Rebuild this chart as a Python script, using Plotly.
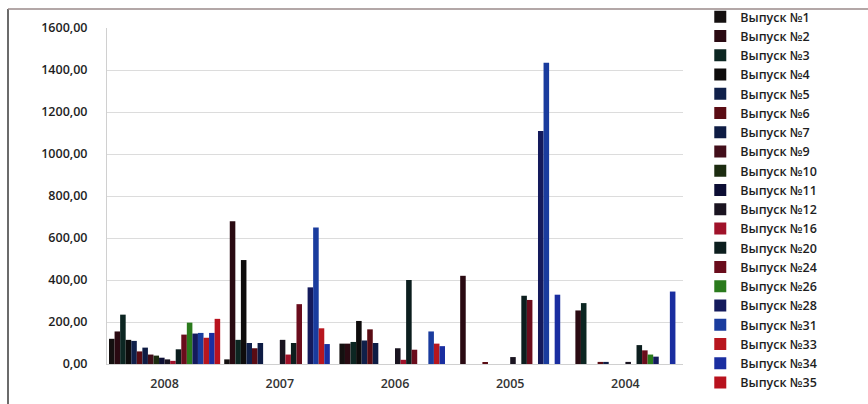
import plotly.graph_objects as go

# Years shown on the category axis (newest first)
years = ["2008", "2007", "2006", "2005", "2004"]

# Issue names (legend order)
issues = ["Выпуск №1", "Выпуск №2", "Выпуск №3", "Выпуск №4", "Выпуск №5",
          "Выпуск №6", "Выпуск №7", "Выпуск №9", "Выпуск №10", "Выпуск №11",
          "Выпуск №12", "Выпуск №16", "Выпуск №20", "Выпуск №24", "Выпуск №26",
          "Выпуск №28", "Выпуск №31", "Выпуск №33", "Выпуск №34", "Выпуск №35"]

# Values per issue, one per year (None = no value that year)
v01 = [120, 22, 97, None, None]
v02 = [155, 680, 97, 420, 255]
v03 = [235, 115, 105, None, 290]
v04 = [115, 495, 205, None, None]
v05 = [110, 100, 112, None, None]
v06 = [60, 75, 165, 7, 10]
v07 = [78, 100, 100, None, 10]
v09 = [45, None, None, None, None]
v10 = [40, None, None, None, None]
v11 = [30, None, None, None, None]
v12 = [22, 115, 75, 33, 10]
v16 = [15, 45, 20, None, None]
v20 = [70, 100, 400, 325, 90]
v24 = [140, 285, 68, 305, 65]
v26 = [197, None, None, None, 45]
v28 = [145, 365, None, 1110, 35]
v31 = [148, 650, 155, 1435, None]
v33 = [125, 170, 97, None, None]
v34 = [148, 95, 85, 330, 345]
v35 = [215, None, None, None, None]

values = [v01, v02, v03, v04, v05, v06, v07, v09, v10, v11,
          v12, v16, v20, v24, v26, v28, v31, v33, v34, v35]

colors = ["#141010", "#2a0a12", "#0c2622", "#0e0c0c", "#10204a",
          "#5a0c14", "#0e1c44", "#420e1a", "#1c2c10", "#0c0e34",
          "#1a1420", "#a0122a", "#0c1e1e", "#6a0c1c", "#2a7a1c",
          "#141a5c", "#1a3c9e", "#b8161e", "#1a2ea0", "#b8121e"]

fig = go.Figure()
for name, vals, col in zip(issues, values, colors):
    fig.add_trace(go.Bar(x=years, y=vals, name=name,
                         marker=dict(color=col, line=dict(width=0))))

fig.update_layout(
    width=868, height=404,
    margin=dict(l=107, r=185, t=28, b=40, autoexpand=False),
    paper_bgcolor="white", plot_bgcolor="white",
    barmode="group", bargap=0.035, bargroupgap=0,
    separators=",.",
    font=dict(family="Open Sans, DejaVu Sans, sans-serif", color="#1e1e1e"),
    legend=dict(x=1.03, xanchor="left", y=1 + 26 / 336, yanchor="top",
                maxheight=404,
                font=dict(size=12.5, weight=600, color="#1e1e1e"),
                itemwidth=30, bgcolor="rgba(0,0,0,0)"),
    showlegend=True,
)
fig.update_yaxes(range=[0, 1600], dtick=200, tickformat=".2f",
                 showgrid=True, gridcolor="#dcdcdc", gridwidth=1,
                 showline=True, linecolor="#d0d0d0", ticks="",
                 ticklabelstandoff=16, zeroline=False,
                 tickfont=dict(size=12.5, weight=600, color="#1e1e1e"))
fig.update_xaxes(showline=True, linecolor="#d0d0d0", ticks="",
                 tickfont=dict(size=12.5, weight=600, color="#333333"),
                 ticklabelstandoff=8)

# Outer chart frame: left and top edges
frame_left, frame_top = 8, 9
fig.add_shape(type="line", xref="paper", yref="paper",
              x0=(frame_left - 107) / 576, x1=(frame_left - 107) / 576,
              y0=-(404 - 364) / 336, y1=1 + (28 - frame_top) / 336,
              line=dict(color="#3a3a3a", width=1.5), layer="above")
fig.add_shape(type="line", xref="paper", yref="paper",
              x0=(frame_left - 107) / 576, x1=(868 - 107) / 576,
              y0=1 + (28 - frame_top) / 336, y1=1 + (28 - frame_top) / 336,
              line=dict(color="#9a8a8a", width=1.5), layer="above")

fig.write_html("out.html")
